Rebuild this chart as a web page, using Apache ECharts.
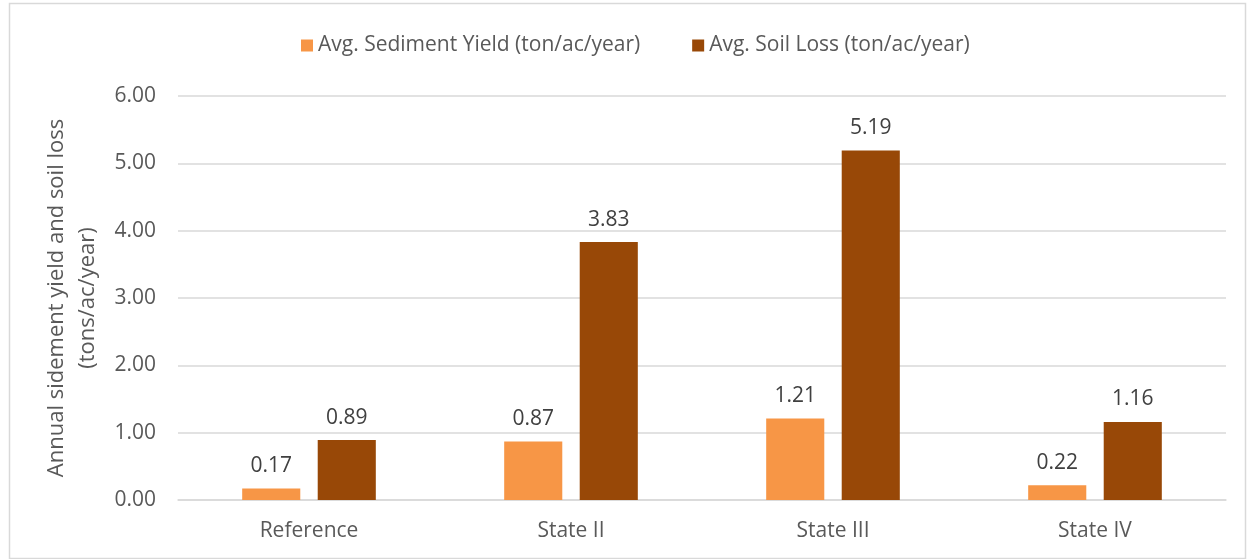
<!DOCTYPE html>
<html><head><meta charset="utf-8">
<script src="https://cdn.jsdelivr.net/npm/echarts@6/dist/echarts.min.js"></script>
<style>html,body{margin:0;padding:0;background:#fff}#c{width:1250px;height:559px;box-sizing:border-box;}</style>
</head><body><div id="c"></div>
<script>
const categories = ['Reference', 'State II', 'State III', 'State IV'];
const sedimentYield = [0.17, 0.87, 1.21, 0.22];
const soilLoss = [0.89, 3.83, 5.19, 1.16];
const seriesNames = ['Avg. Sediment Yield (ton/ac/year)', 'Avg. Soil Loss (ton/ac/year)'];
const yTitle = 'Annual sidement yield and soil loss\n(tons/ac/year)';

const FONT = "'Open Sans', 'Liberation Sans', sans-serif";
const chart = echarts.init(document.getElementById('c'), null, {renderer: 'canvas'});
const labelStyle = {show: true, position: 'top', distance: 12, color: '#404040', fontSize: 21, fontFamily: FONT, formatter: p => p.value.toFixed(2)};
chart.setOption({
  backgroundColor: '#fff',
  animation: false,
  graphic: [{type: 'rect', left: 7, top: 1, shape: {width: 1236, height: 555}, style: {fill: 'none', stroke: '#d9d9d9', lineWidth: 1.5}, silent: true}],
  legend: {
    top: 30, left: 296, itemWidth: 12, itemHeight: 12, itemGap: 52,
    icon: 'rect',
    textStyle: {color: '#595959', fontSize: 21, fontFamily: FONT},
    data: seriesNames
  },
  grid: {left: 178, right: 24, top: 96, bottom: 59, containLabel: false},
  xAxis: {
    type: 'category', data: categories,
    axisLine: {lineStyle: {color: '#d9d9d9', width: 1.5}},
    axisTick: {show: false},
    axisLabel: {color: '#595959', fontSize: 21, fontFamily: FONT, margin: 21}
  },
  yAxis: {
    type: 'value', min: 0, max: 6, interval: 1,
    name: yTitle, nameLocation: 'middle', nameGap: 71, nameRotate: 90,
    nameTextStyle: {color: '#595959', fontSize: 22, fontFamily: FONT, lineHeight: 31, align: 'center'},
    axisLine: {show: false}, axisTick: {show: false},
    axisLabel: {color: '#595959', fontSize: 21, fontFamily: FONT, margin: 22, formatter: v => v.toFixed(2)},
    splitLine: {lineStyle: {color: '#d9d9d9', width: 1.5}}
  },
  series: [
    {name: seriesNames[0], type: 'bar', data: sedimentYield, barGap: '30%', barCategoryGap: '49%',
     itemStyle: {color: '#F79646'}, label: labelStyle},
    {name: seriesNames[1], type: 'bar', data: soilLoss, barGap: '30%', barCategoryGap: '49%',
     itemStyle: {color: '#984807'}, label: labelStyle}
  ]
});
</script></body></html>
